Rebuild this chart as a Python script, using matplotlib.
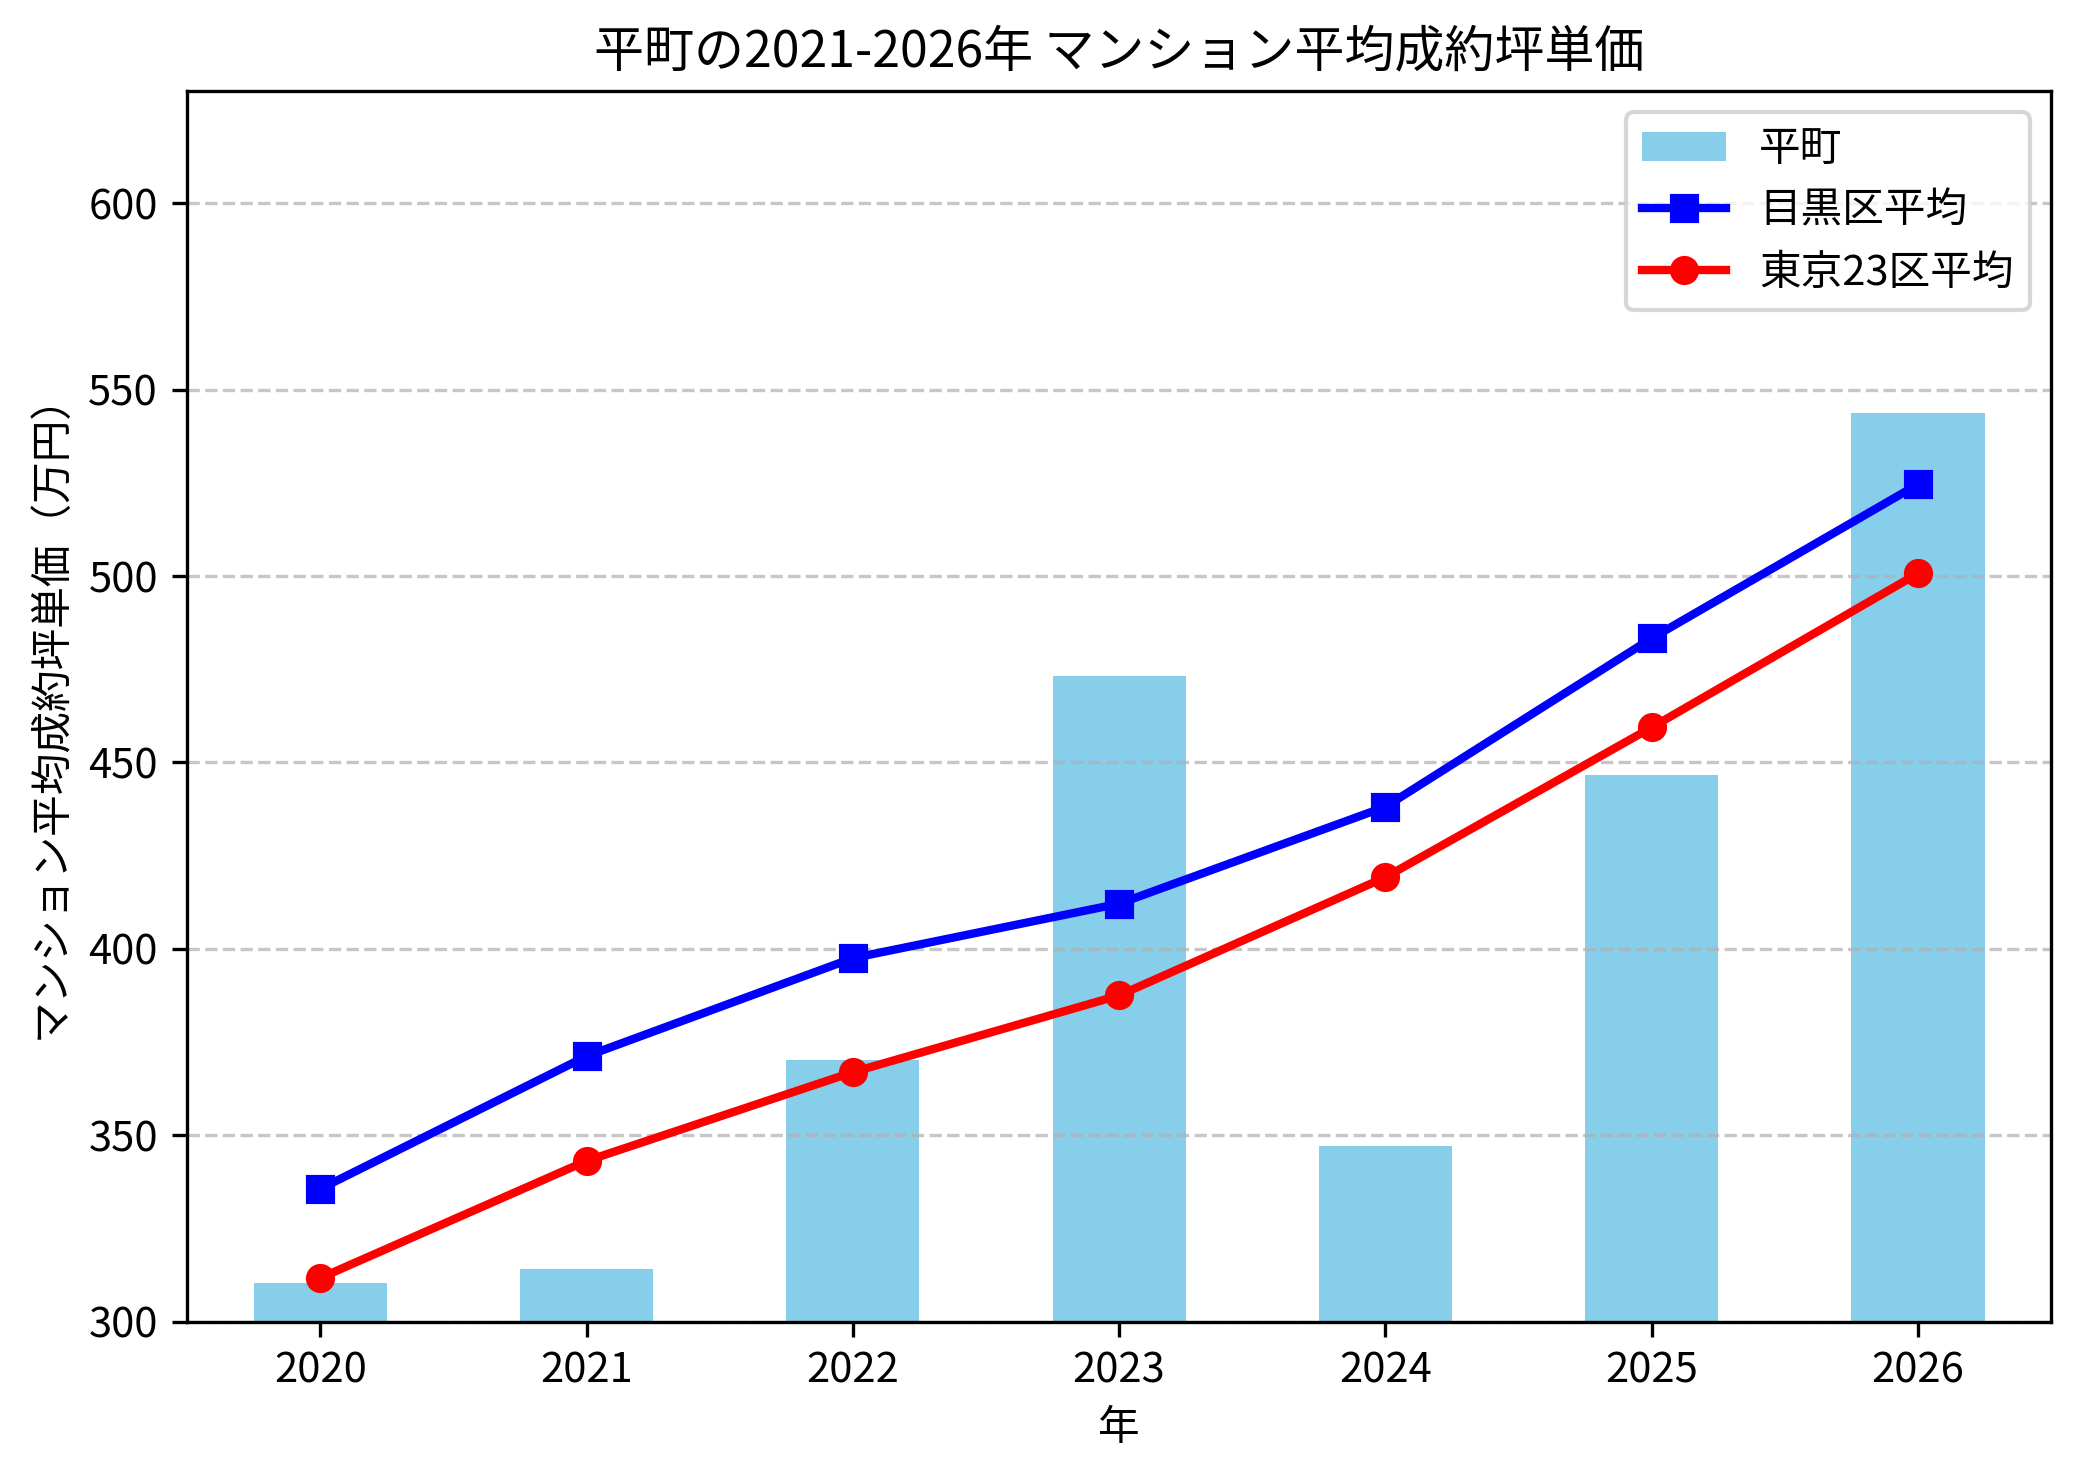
import numpy as np
import matplotlib
matplotlib.use('Agg')
from matplotlib import pyplot as plt

plt.rcParams['font.family'] = ['Noto Sans CJK JP', 'DejaVu Sans']

years = ['2020', '2021', '2022', '2023', '2024', '2025', '2026']
hiramachi = [310.3, 314.2, 370.1, 473.3, 347.0, 446.6, 543.8]
meguro_avg = [335.6, 371.2, 397.5, 412.1, 438.1, 483.3, 524.6]
tokyo23_avg = [311.7, 343.1, 366.9, 387.5, 419.2, 459.4, 500.7]


def main():
    fig, ax = plt.subplots(figsize=(2079 / 300, 1474 / 300), dpi=300)
    fig.subplots_adjust(left=0.09, right=0.9866, top=0.938, bottom=0.1034)
    x = np.arange(len(years))

    bars = ax.bar(x, hiramachi, width=0.5, color='skyblue', label='平町')
    l1, = ax.plot(x, meguro_avg, color='blue', marker='s', linewidth=2, label='目黒区平均')
    l2, = ax.plot(x, tokyo23_avg, color='red', marker='o', linewidth=2, label='東京23区平均')

    ax.set_xticks(x)
    ax.set_xticklabels(years)
    ax.set_xlim(-0.5, len(years) - 0.5)
    ax.set_ylim(300, 630)

    ax.set_title('平町の2021-2026年 マンション平均成約坪単価', fontsize=12)
    ax.set_xlabel('年')
    ax.set_ylabel('マンション平均成約坪単価（万円）')
    ax.grid(axis='y', linestyle='--', alpha=0.7)
    ax.legend(handles=[bars, l1, l2], loc='upper right')

    fig.savefig('out.png', dpi=300)


if __name__ == '__main__':
    main()
